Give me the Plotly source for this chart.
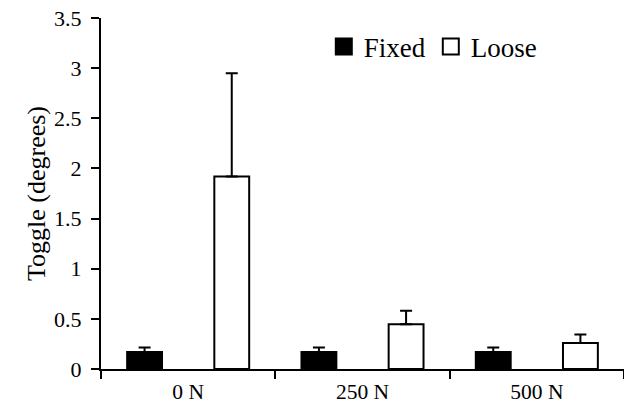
import plotly.graph_objects as go

categories = ["0 N", "250 N", "500 N"]
fixed_vals = [0.17, 0.17, 0.17]
fixed_err = [0.045, 0.045, 0.045]
loose_vals = [1.92, 0.445, 0.26]
loose_err = [1.03, 0.135, 0.085]
y_ticks = [0, 0.5, 1, 1.5, 2, 2.5, 3, 3.5]
y_tick_labels = ["0", "0.5", "1", "1.5", "2", "2.5", "3", "3.5"]

FONT = "Liberation Serif"

fig = go.Figure()
fig.add_trace(go.Bar(
    name="Fixed", x=categories, y=fixed_vals,
    marker=dict(color="black", line=dict(color="black", width=2)),
    error_y=dict(type="data", array=fixed_err, arrayminus=[0] * 3, symmetric=False,
                 color="black", thickness=2, width=6),
    showlegend=False,
))
fig.add_trace(go.Bar(
    name="Loose", x=categories, y=loose_vals,
    marker=dict(color="white", line=dict(color="black", width=2)),
    error_y=dict(type="data", array=loose_err, arrayminus=[0] * 3, symmetric=False,
                 color="black", thickness=2, width=6),
    showlegend=False,
))
# legend entries
fig.add_trace(go.Scatter(x=[None], y=[None], mode="markers", name="Fixed",
                         marker=dict(symbol="square", size=20, color="black",
                                     line=dict(color="black", width=2))))
fig.add_trace(go.Scatter(x=[None], y=[None], mode="markers", name="Loose",
                         marker=dict(symbol="square", size=20, color="white",
                                     line=dict(color="black", width=2))))

fig.update_layout(
    width=624, height=404,
    margin=dict(l=101, r=0, t=18, b=35, autoexpand=False),
    paper_bgcolor="white", plot_bgcolor="white",
    barmode="group", bargap=0.0, bargroupgap=0.6,
    font=dict(family=FONT, size=21, color="black"),
    legend=dict(orientation="h", x=0.426, y=0.987, xanchor="left", yanchor="top",
                font=dict(family=FONT, size=27, color="black"),
                bgcolor="rgba(0,0,0,0)", itemwidth=30, tracegroupgap=0),
    xaxis=dict(
        showline=True, linecolor="black", linewidth=2,
        ticks="outside", tickson="boundaries", ticklen=8, tickwidth=2, tickcolor="black",
        tickfont=dict(family=FONT, size=21.5, color="black"),
        ticklabelstandoff=2,
        showgrid=False, zeroline=False, automargin=False,
    ),
    yaxis=dict(
        range=[0, 3.5], tickvals=y_ticks, ticktext=y_tick_labels,
        showline=True, linecolor="black", linewidth=2,
        ticks="outside", ticklen=8, tickwidth=2, tickcolor="black",
        tickfont=dict(family=FONT, size=22, color="black"),
        ticklabelstandoff=5,
        ticklabeloverflow="allow",
        title=dict(text="Toggle (degrees)", font=dict(family=FONT, size=26, color="black"),
                   standoff=1),
        showgrid=False, zeroline=False, automargin=False,
    ),
)

fig.write_html("out.html", config={"displayModeBar": False},
               post_script="document.body.style.margin='0';")
